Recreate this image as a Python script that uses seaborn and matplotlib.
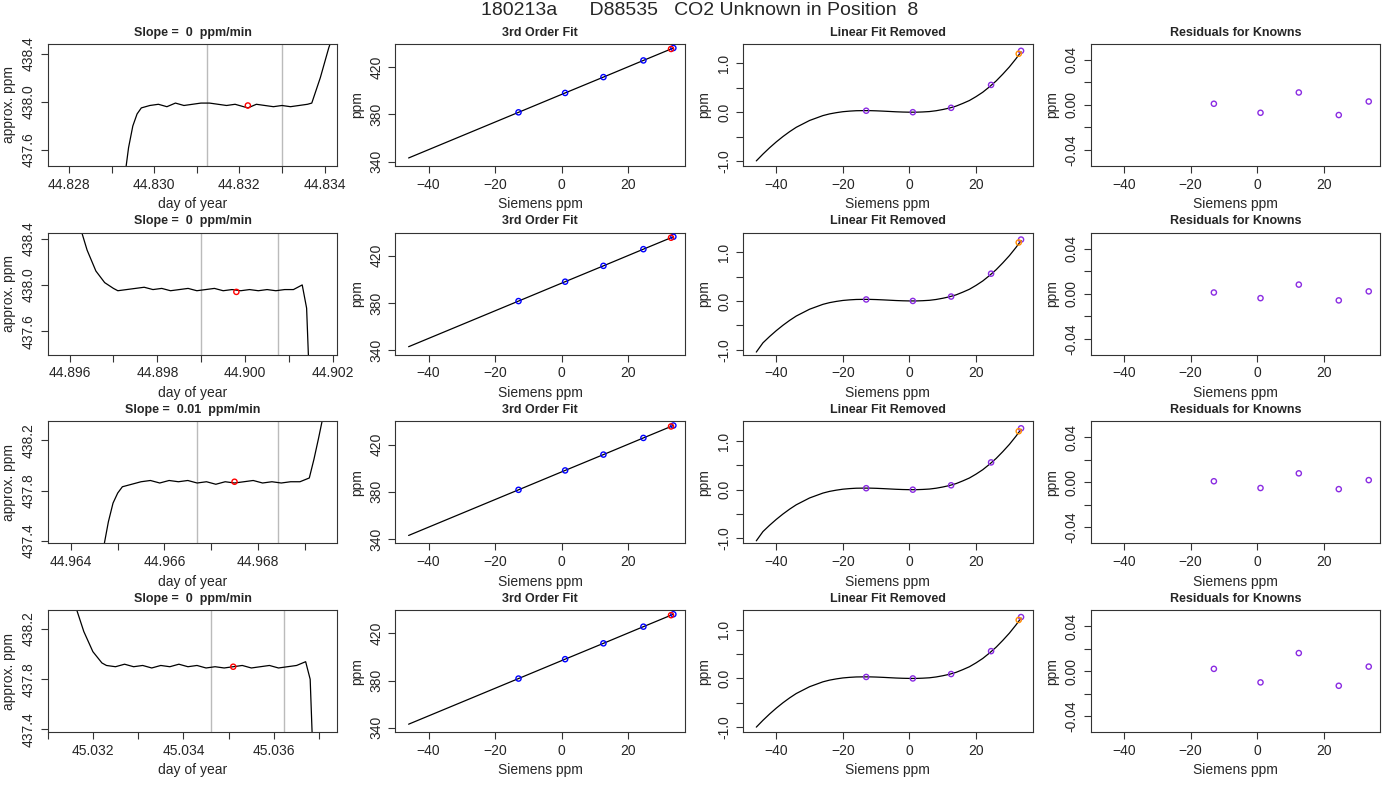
import numpy as np
import pandas as pd
import matplotlib.pyplot as plt
import seaborn as sns

# Known standards (Siemens ppm offsets) shared by every row
KNOWN_X = [-13.0, 1.0, 12.5, 24.5, 33.5]


class UnknownRun:
    def __init__(self, trace_x, trace_y, xlim, ylim, yticks, xticks, grey, red, slope, resid, lin_low):
        self.trace = pd.DataFrame({'day': trace_x, 'ppm': trace_y})
        self.xlim, self.ylim = xlim, ylim
        self.yticks, self.xticks = yticks, xticks
        self.grey, self.red = grey, red
        self.slope = slope
        self.resid = resid
        self.lin_low = lin_low


def r_axes(ax):
    '''R-like axes: full box, outward ticks, rotated y labels.'''
    for s in ax.spines.values():
        s.set_linewidth(0.8)
        s.set_color('#333333')
    ax.tick_params(direction='out', length=5, labelsize=10, bottom=True, left=True, color='#333333')
    for lab in ax.get_yticklabels():
        lab.set_rotation(90)
        lab.set_va('center')


runs = [
    UnknownRun([44.8293, 44.8294, 44.8295, 44.8296, 44.8297, 44.8299, 44.8301, 44.8303, 44.8305, 44.8307,
                44.8309, 44.8311, 44.8313, 44.8315, 44.8317, 44.8319, 44.8321, 44.8322, 44.8324, 44.8326,
                44.8328, 44.8330, 44.8332, 44.8334, 44.8336, 44.8337, 44.8339, 44.8341, 44.8342],
               [437.35, 437.62, 437.80, 437.90, 437.95, 437.97, 437.98, 437.96, 437.99, 437.97,
                437.98, 437.99, 437.99, 437.98, 437.97, 437.98, 437.96, 437.95, 437.98, 437.97,
                437.96, 437.97, 437.96, 437.97, 437.98, 437.99, 438.20, 438.45, 438.55],
               (44.8275, 44.8343), (437.47, 438.48), [437.6, 438.0, 438.4],
               [44.828, 44.829, 44.830, 44.831, 44.832, 44.833, 44.834], (44.83125, 44.8330),
               (44.8322, 437.97), '0', [0.001, -0.007, 0.011, -0.009, 0.003], -1.0),
    UnknownRun([44.8962, 44.8964, 44.8966, 44.8968, 44.8970, 44.8971, 44.8973, 44.8975, 44.8977, 44.8979,
                44.8981, 44.8983, 44.8985, 44.8987, 44.8989, 44.8991, 44.8993, 44.8995, 44.8997, 44.8999,
                44.9001, 44.9003, 44.9005, 44.9007, 44.9009, 44.9011, 44.9013, 44.9014, 44.90145],
               [438.55, 438.30, 438.12, 438.02, 437.97, 437.95, 437.96, 437.97, 437.98, 437.96,
                437.97, 437.95, 437.96, 437.97, 437.95, 437.96, 437.97, 437.95, 437.96, 437.95,
                437.96, 437.95, 437.96, 437.95, 437.96, 437.96, 438.00, 437.80, 437.30],
               (44.8955, 44.9021), (437.4, 438.45), [437.6, 438.0, 438.4],
               [44.896, 44.897, 44.898, 44.899, 44.900, 44.901, 44.902], (44.8990, 44.90075),
               (44.8998, 437.94), '0', [0.001, -0.004, 0.008, -0.006, 0.002], -1.05),
    UnknownRun([44.9647, 44.9648, 44.9649, 44.9650, 44.9651, 44.9653, 44.9655, 44.9657, 44.9659, 44.9661,
                44.9663, 44.9665, 44.9667, 44.9669, 44.9671, 44.9673, 44.9675, 44.9677, 44.9679, 44.9681,
                44.9683, 44.9685, 44.9687, 44.9689, 44.9691, 44.9692, 44.9693, 44.9694],
               [437.35, 437.55, 437.70, 437.78, 437.83, 437.85, 437.87, 437.88, 437.86, 437.88,
                437.87, 437.88, 437.86, 437.87, 437.85, 437.87, 437.86, 437.87, 437.88, 437.86,
                437.87, 437.86, 437.87, 437.87, 437.90, 438.05, 438.22, 438.40],
               (44.9635, 44.9697), (437.38, 438.35), [437.4, 437.8, 438.2],
               [44.964, 44.965, 44.966, 44.967, 44.968, 44.969], (44.96670, 44.96843),
               (44.9675, 437.87), '0.01', [0.001, -0.005, 0.008, -0.006, 0.002], -1.05),
    UnknownRun([45.0316, 45.0318, 45.0320, 45.0322, 45.0323, 45.0325, 45.0327, 45.0329, 45.0331, 45.0333,
                45.0335, 45.0337, 45.0339, 45.0341, 45.0343, 45.0345, 45.0347, 45.0349, 45.0351, 45.0353,
                45.0355, 45.0357, 45.0359, 45.0361, 45.0363, 45.0365, 45.0367, 45.0368, 45.03685],
               [438.40, 438.18, 438.02, 437.93, 437.91, 437.90, 437.92, 437.90, 437.91, 437.89,
                437.91, 437.90, 437.92, 437.90, 437.91, 437.89, 437.90, 437.89, 437.90, 437.91,
                437.89, 437.90, 437.91, 437.89, 437.90, 437.91, 437.94, 437.80, 437.30],
               (45.0310, 45.0374), (437.38, 438.35), [437.4, 437.8, 438.2],
               [45.031, 45.032, 45.033, 45.034, 45.035, 45.036, 45.037], (45.03460, 45.03622),
               (45.0351, 437.90), '0', [0.002, -0.010, 0.016, -0.013, 0.004], -1.0),
]

# 3rd order fit curve (response vs Siemens ppm)
fit_x = [-46, -13, 1, 12.5, 24.5, 33.5]
fit_y = [343.1, 381.7, 398.1, 411.5, 425.6, 436.1]
known_y = [381.7, 398.1, 411.5, 425.6, 436.1]

# linear-fit-removed curve
lin_x = [-46, -44, -42, -40, -38, -36, -34, -32, -30, -28, -26, -24, -22, -20, -18, -16, -14, -12, -10,
         -8, -6, -4, -2, 0, 2, 4, 6, 8, 10, 12, 14, 16, 18, 20, 22, 24, 26, 28, 30, 32, 33.5]
lin_y = [-1.0, -0.86, -0.73, -0.61, -0.50, -0.40, -0.31, -0.24, -0.17, -0.12, -0.07, -0.035, -0.01,
         0.01, 0.022, 0.03, 0.032, 0.032, 0.028, 0.022, 0.015, 0.008, 0.003, 0.0, 0.0, 0.005, 0.013,
         0.03, 0.055, 0.085, 0.125, 0.18, 0.24, 0.32, 0.41, 0.52, 0.64, 0.78, 0.93, 1.10, 1.24]
lin_known = [0.03, 0.0, 0.09, 0.56, 1.26]

sns.set_style('ticks')
plt.rcParams['font.family'] = ['Liberation Sans', 'DejaVu Sans']
fig, axes = plt.subplots(4, 4, figsize=(14, 8), dpi=100)
fig.suptitle('180213a      D88535   CO2 Unknown in Position  8', fontsize=14, y=0.998)

for i, run in enumerate(runs):
    ax = axes[i, 0]
    for g in run.grey:
        ax.axvline(g, color='#bbbbbb', linewidth=1)
    sns.lineplot(data=run.trace, x='day', y='ppm', color='black', linewidth=0.9, ax=ax, sort=False)
    ax.scatter([run.red[0]], [run.red[1]], s=14, facecolors='none', edgecolors='red', linewidths=1, zorder=3)
    ax.set_xlim(run.xlim)
    ax.set_ylim(run.ylim)
    ax.set_yticks(run.yticks)
    ax.set_xticks(run.xticks)
    ax.set_xticklabels([f'{t:.3f}' if round(t * 1000) % 2 == 0 else '' for t in run.xticks])
    ax.set_xlabel('day of year')
    ax.set_ylabel('approx. ppm')
    ax.set_title(f'Slope =  {run.slope}  ppm/min', fontsize=9, fontweight='bold')
    r_axes(ax)

    ax = axes[i, 1]
    sns.lineplot(x=fit_x, y=fit_y, color='black', linewidth=0.9, ax=ax)
    ax.scatter(KNOWN_X, known_y, s=14, facecolors='none', edgecolors='blue', linewidths=1, zorder=3)
    ax.scatter([32.8], [435.3], s=14, facecolors='none', edgecolors='red', linewidths=1, zorder=3)
    ax.set_xlim(-50, 37)
    ax.set_ylim(336.5, 439.5)
    ax.set_yticks([340, 380, 420])
    ax.set_xticks([-40, -20, 0, 20])
    ax.set_xlabel('Siemens ppm')
    ax.set_ylabel('ppm')
    ax.set_title('3rd Order Fit', fontsize=9, fontweight='bold')
    r_axes(ax)

    ax = axes[i, 2]
    ly = list(lin_y)
    ly[0] = run.lin_low
    sns.lineplot(x=lin_x, y=ly, color='black', linewidth=0.9, ax=ax)
    ax.scatter(KNOWN_X, lin_known, s=14, facecolors='none', edgecolors='#8a2be2', linewidths=1, zorder=3)
    ax.scatter([32.8], [1.2], s=14, facecolors='none', edgecolors='darkorange', linewidths=1, zorder=3)
    ax.set_xlim(-50, 37)
    ax.set_ylim(-1.1, 1.4)
    ax.set_yticks([-1.0, -0.5, 0.0, 0.5, 1.0])
    ax.set_yticklabels(['-1.0', '', '0.0', '', '1.0'])
    ax.set_xticks([-40, -20, 0, 20])
    ax.set_xlabel('Siemens ppm')
    ax.set_ylabel('ppm')
    ax.set_title('Linear Fit Removed', fontsize=9, fontweight='bold')
    r_axes(ax)

    ax = axes[i, 3]
    sns.scatterplot(x=KNOWN_X, y=run.resid, s=14, facecolors='none', edgecolor='#8a2be2', linewidth=1, ax=ax)
    ax.set_xlim(-50, 37)
    ax.set_ylim(-0.054, 0.054)
    ax.set_yticks([-0.04, -0.02, 0.0, 0.02, 0.04])
    ax.set_yticklabels(['-0.04', '', '0.00', '', '0.04'])
    ax.set_xticks([-40, -20, 0, 20])
    ax.set_xlabel('Siemens ppm')
    ax.set_ylabel('ppm')
    ax.set_title('Residuals for Knowns', fontsize=9, fontweight='bold')
    r_axes(ax)

plt.subplots_adjust(left=0.034, right=0.986, top=0.945, bottom=0.085, hspace=0.55, wspace=0.2)
plt.savefig('out.png')
